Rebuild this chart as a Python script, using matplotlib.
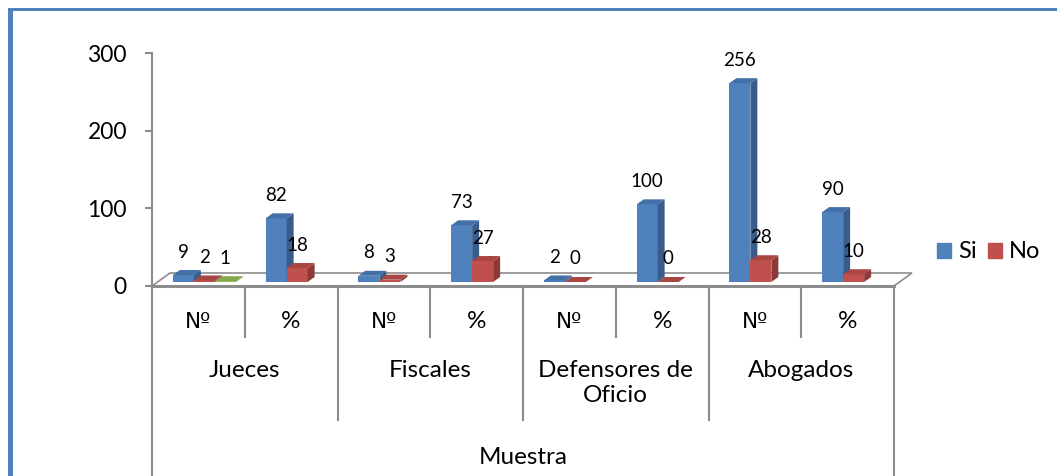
import matplotlib.pyplot as plt
from matplotlib.patches import Polygon, Rectangle, Patch
from matplotlib.transforms import blended_transform_factory

plt.rcParams['font.family'] = ['Lato', 'DejaVu Sans']

# data
grupos = ['Jueces', 'Fiscales', 'Defensores de\nOficio', 'Abogados']
sub = ['Nº', '%']
titulo_eje = 'Muestra'
si = [9, 82, 8, 73, 2, 100, 256, 90]
no = [2, 18, 3, 27, 0, 0, 28, 10]
otro = [1, None, None, None, None, None, None, None]   # third series, only shows once
yticks = [0, 100, 200, 300]

series = [si, no, otro]
front = ['#4F81BD', '#C0504D', '#9BBB59']
side = ['#385D8A', '#8C3A38', '#71893F']
top = ['#4470A8', '#A94542', '#86A84C']
gray = '#8C8C8C'

W, H = 1057, 476
fig = plt.figure(figsize=(W / 100, H / 100), dpi=100)
ax = fig.add_axes([152 / W, 1 - 286 / H, 742 / W, 233 / H])
ncat = len(si)
ax.set_xlim(0, ncat)
ax.set_ylim(0, 300)
for s in ax.spines.values():
    s.set_visible(False)
ax.set_xticks([])
ax.set_yticks(yticks)
ax.tick_params(axis='y', length=5, width=1.5, color=gray, pad=13, labelsize=16.5)

# pixel -> data units
sx = 742 / ncat
sy = 233 / 300
bw = 21 / sx
fx, fy = 6 / sx, 4 / sy        # bars stand half-way into the floor
ddx, ddy = 7 / sx, 5 / sy      # bar depth
flx, fly = 18 / sx, 13 / sy    # floor depth

# floor
ax.add_patch(Polygon([(0, 0), (ncat, 0), (ncat + flx, fly), (flx, fly)], closed=True,
                     facecolor='white', edgecolor=gray, lw=1.2, clip_on=False, zorder=1))
ax.plot([0, ncat], [0, 0], color=gray, lw=2.2, clip_on=False, zorder=1.5)

z = 2
for k in range(ncat):
    for j, vals in enumerate(series):
        v = vals[k]
        if v is None:
            continue
        x0 = k + 0.5 - 1.5 * bw + j * bw + fx
        y0 = fy
        ax.add_patch(Rectangle((x0, y0), bw, v, facecolor=front[j], edgecolor='none',
                               clip_on=False, zorder=z))
        ax.add_patch(Polygon([(x0 + bw, y0), (x0 + bw + ddx, y0 + ddy),
                              (x0 + bw + ddx, y0 + v + ddy), (x0 + bw, y0 + v)],
                             closed=True, facecolor=side[j], edgecolor='none',
                             clip_on=False, zorder=z))
        ax.add_patch(Polygon([(x0, y0 + v), (x0 + bw, y0 + v),
                              (x0 + bw + ddx, y0 + v + ddy), (x0 + ddx, y0 + v + ddy)],
                             closed=True, facecolor=top[j], edgecolor='none',
                             clip_on=False, zorder=z))
        ax.annotate(str(v), xy=(x0 + bw / 2, y0 + v), xytext=(0, 23),
                    textcoords='offset pixels', ha='center', va='center',
                    fontsize=13.5, zorder=20)
        z += 1

# multi-level category axis
bt = blended_transform_factory(ax.transData, ax.transAxes)
def ay(px):
    return -(px - 286) / 233

ax.plot([0, 0], [1, ay(H)], transform=bt, color=gray, lw=1.5, clip_on=False)
for b in range(1, ncat + 1):
    if b == ncat:
        end = H
    elif b % 2 == 0:
        end = 420
    else:
        end = 337
    ax.plot([b, b], [0, ay(end)], transform=bt, color=gray, lw=1.5, clip_on=False)

for k in range(ncat):
    lab = sub[k % 2]
    fam = ['DejaVu Sans'] if lab == 'Nº' else None
    ax.text(k + 0.5, ay(322), lab, transform=bt, ha='center', va='center',
            fontsize=15.5 if fam else 17.5, family=fam)
for g, name in enumerate(grupos):
    ax.text(2 * g + 1, ay(360), name, transform=bt, ha='center', va='top',
            fontsize=17.5, linespacing=1.25)
ax.text(ncat / 2, ay(457), titulo_eje, transform=bt, ha='center', va='center',
        fontsize=17.5)

# legend
fig.legend(handles=[Patch(color=front[0]), Patch(color=front[1])], labels=['Si', 'No'],
           loc='center left', bbox_to_anchor=(937 / W, 1 - 252 / H), ncol=2,
           frameon=False, handlelength=0.6, handleheight=0.6, handletextpad=0.3,
           columnspacing=0.45, fontsize=17, borderpad=0, borderaxespad=0)

# blue frame (left and top edges only)
fig.add_artist(Rectangle((8 / W, 0), 5 / W, (H - 8) / H, transform=fig.transFigure,
                         facecolor='#4F81BD', edgecolor='none'))
fig.add_artist(Rectangle((8 / W, 1 - 11 / H), (W - 8) / W, 3 / H, transform=fig.transFigure,
                         facecolor='#4F81BD', edgecolor='none'))

fig.savefig('out.png', dpi=100)
